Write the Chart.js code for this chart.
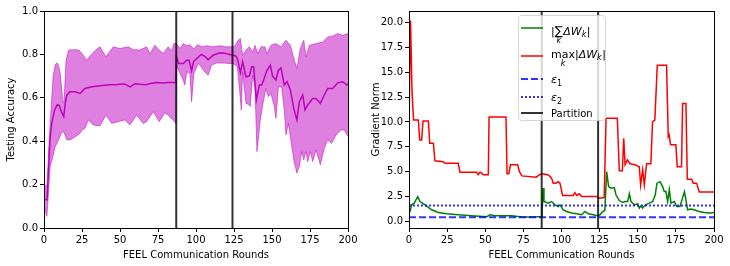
<!DOCTYPE html>
<html>
<head>
<meta charset="utf-8">
<script src="https://cdn.jsdelivr.net/npm/chart.js@4/dist/chart.umd.min.js"></script>
<style>
html,body{margin:0;padding:0;background:#fff;}
#wrap{display:flex;width:730px;height:266px;}
canvas{display:block;}
</style>
</head>
<body>
<div id="wrap">
<canvas id="accChart" width="365" height="266"></canvas>
<canvas id="normChart" width="365" height="266"></canvas>
</div>
<script>
// ---------- data ----------
const roundTicks = [0, 25, 50, 75, 100, 125, 150, 175, 200];
const accTicks = [0, 0.2, 0.4, 0.6, 0.8, 1.0];
const normTicks = [0, 2.5, 5, 7.5, 10, 12.5, 15, 17.5, 20];
const partitionRounds = [87, 124];
const eps1 = 0.42;
const eps2 = 1.6;

// [round, testing accuracy]
const accMean = [[0,0.13],[2,0.13],[3,0.27],[4,0.41],[5,0.48],[7,0.544],[8.6,0.567],[10,0.565],[11.4,0.536],[13,0.513],[14,0.574],[15,0.613],[17,0.628],[20.6,0.628],[23.7,0.62],[27,0.643],[30.5,0.65],[33,0.652],[36.8,0.655],[40,0.658],[43.4,0.66],[47,0.66],[50,0.662],[53,0.664],[56.6,0.65],[60,0.665],[63,0.662],[67,0.66],[70,0.666],[74,0.67],[78,0.668],[82,0.67],[86.8,0.67],[87.2,0.79],[88.5,0.758],[91.6,0.758],[93.9,0.773],[95.5,0.773],[97.1,0.724],[98.3,0.766],[100.3,0.78],[103.6,0.80],[106,0.79],[108,0.776],[111.3,0.796],[115.7,0.807],[119,0.805],[122.2,0.80],[124.4,0.796],[126.3,0.792],[127.4,0.777],[129.2,0.715],[130.7,0.766],[132.9,0.697],[135.1,0.70],[136.6,0.743],[137.9,0.743],[139.7,0.59],[141.7,0.659],[143.2,0.659],[144.5,0.682],[146.7,0.727],[148.9,0.75],[150.4,0.70],[152.6,0.682],[154.2,0.727],[155.9,0.738],[158.1,0.659],[159.9,0.674],[162.1,0.636],[164.3,0.551],[166.4,0.498],[168,0.582],[170.2,0.613],[171.7,0.544],[173.5,0.567],[176.8,0.597],[178.9,0.597],[181.8,0.574],[184.4,0.613],[186.6,0.643],[189.9,0.643],[193.2,0.669],[196.5,0.674],[199.3,0.659],[200,0.665]];
const accUpper = [[0,0.19],[2,0.2],[3,0.35],[4.2,0.5],[6,0.7],[7.5,0.755],[8.6,0.761],[9.5,0.75],[10.7,0.712],[12.3,0.59],[13.2,0.58],[14.5,0.773],[16.2,0.82],[20.6,0.822],[23,0.82],[25.8,0.796],[28,0.773],[32.4,0.81],[36.8,0.835],[40.7,0.789],[45.6,0.835],[50,0.827],[55.4,0.835],[58.7,0.822],[63,0.82],[67.5,0.835],[69.7,0.804],[73,0.842],[75.8,0.82],[78.4,0.804],[81.7,0.835],[84,0.816],[85.4,0.85],[87,0.85],[89.5,0.827],[91.6,0.85],[94,0.84],[96,0.845],[98.5,0.825],[101,0.845],[104,0.835],[107,0.84],[111,0.835],[116,0.84],[120,0.835],[124.5,0.835],[126,0.842],[127.7,0.865],[129.2,0.873],[130.7,0.796],[132.9,0.82],[135.1,0.835],[137.3,0.81],[138.8,0.842],[140.6,0.804],[142.8,0.835],[145.4,0.835],[146.7,0.804],[149.3,0.842],[152.6,0.85],[155.9,0.835],[159.2,0.865],[162.1,0.842],[164.7,0.773],[166.4,0.735],[168.6,0.827],[170.9,0.865],[172.4,0.789],[174.6,0.842],[179,0.85],[183.3,0.857],[186.6,0.88],[190,0.885],[193.2,0.896],[196.5,0.888],[200,0.896]];
const accLower = [[0,0.1],[1.9,0.054],[3.1,0.176],[4,0.283],[5.3,0.314],[7.4,0.375],[9.6,0.406],[11.4,0.437],[13,0.444],[15.1,0.406],[17.3,0.406],[20.6,0.421],[23.7,0.436],[25,0.452],[27,0.46],[29.1,0.498],[32.4,0.475],[36.8,0.47],[40.7,0.52],[44.5,0.482],[48.8,0.49],[53.2,0.498],[56.5,0.475],[60.9,0.52],[65.3,0.482],[67.5,0.49],[71.9,0.536],[75.8,0.49],[79.5,0.531],[81.7,0.52],[86.1,0.49],[86.8,0.48],[87.2,0.75],[89.5,0.712],[91.6,0.68],[92.7,0.659],[93.9,0.72],[96,0.712],[97.1,0.582],[98.6,0.712],[101.5,0.758],[102.6,0.75],[104.8,0.727],[108,0.704],[110.2,0.75],[113.5,0.76],[118,0.76],[122.3,0.758],[124.5,0.758],[127.2,0.743],[128.8,0.628],[129.8,0.544],[130.7,0.72],[132.9,0.574],[134.4,0.57],[135.7,0.56],[137.3,0.704],[138.8,0.65],[140.1,0.352],[142.3,0.498],[143.9,0.567],[146,0.643],[147.6,0.605],[149.3,0.62],[151.5,0.56],[152.6,0.505],[154.2,0.65],[156.3,0.65],[158.1,0.544],[159.2,0.429],[160.8,0.482],[163,0.375],[164.7,0.299],[166.4,0.253],[168,0.283],[169.5,0.352],[170.9,0.314],[172.4,0.352],[173.5,0.306],[175.2,0.352],[176.8,0.306],[178.9,0.36],[181.8,0.291],[184.4,0.367],[186.6,0.406],[189.3,0.39],[192.1,0.429],[195.4,0.452],[197.6,0.452],[200,0.421]];

// [round, gradient norm]
const sumNorm = [[0,1.0],[0.7,1.0],[1.7,1.67],[3.4,1.84],[5.7,2.5],[7.2,2.0],[10.5,1.67],[14.9,1.17],[19.2,0.9],[24.6,0.77],[32.2,0.67],[41.1,0.57],[51,0.47],[53.2,0.67],[56.5,0.57],[67.5,0.57],[74,0.44],[80.6,0.44],[87.2,0.5],[87.9,3.35],[88.5,2.0],[91.4,1.84],[93.5,2.0],[95.7,1.67],[97.9,1.5],[99,1.67],[101.2,1.17],[103.4,1.0],[106.7,0.84],[110,0.77],[113.2,0.67],[115.4,1.0],[117.6,0.77],[120.9,0.67],[123.5,0.57],[125.3,0.67],[126.6,0.93],[128.4,1.1],[129.6,5.0],[130.9,3.5],[132.5,3.35],[134.6,3.4],[135.7,2.68],[137.9,2.1],[140.1,1.9],[141.9,2.0],[143.4,2.0],[144.5,2.78],[145.6,2.0],[147.8,1.67],[150,1.77],[151,1.34],[152.1,1.57],[153.2,1.34],[155,1.67],[157.6,1.84],[159.8,2.0],[161.5,2.68],[162.6,3.85],[164.6,4.0],[166.3,3.5],[167.4,3.0],[168.5,3.0],[169.6,2.0],[170.7,3.2],[171.8,1.84],[174,2.0],[175.5,1.5],[177.7,1.5],[179,2.17],[180.6,3.0],[181.6,2.17],[182.7,1.17],[184.9,1.24],[187,1.17],[190.3,1.0],[193.6,0.9],[196.9,0.84],[200,0.9]];
const maxNorm = [[0,9.7],[1,20.2],[2,13.0],[3,10.2],[6.1,10.2],[7,8.2],[8.3,8.2],[9.2,10.1],[12.7,10.1],[13.6,7.86],[16,7.86],[17,6.1],[22.5,6.0],[23.6,5.85],[32.3,5.85],[33.4,4.95],[44.3,4.95],[45.4,4.7],[46.6,4.95],[47.6,4.85],[48.7,4.7],[52,4.7],[52.5,10.5],[63.6,10.5],[64.3,4.8],[65.5,4.8],[66.5,5.7],[71.3,5.7],[72.4,5.0],[74,4.58],[83.4,4.45],[85.6,4.7],[87.7,4.8],[91.4,4.68],[93.5,4.35],[94.6,3.85],[96.3,3.85],[97.9,4.0],[99,3.85],[100.7,2.62],[107.7,2.62],[108.8,2.9],[109.9,2.62],[111.6,2.78],[113.2,2.5],[123,2.5],[124.8,2.34],[128,2.4],[129.2,10.37],[136.6,10.37],[137.9,5.09],[139.9,5.09],[140.8,8.36],[141.7,5.7],[143.2,6.19],[144.9,5.8],[148.2,5.7],[151,5.5],[151.9,3.68],[153.2,5.2],[154.3,3.68],[155.8,5.8],[158.6,5.8],[159.7,10.03],[161.2,10.2],[162.8,15.7],[168.9,15.7],[170,8.53],[170.6,8.7],[171.5,7.7],[175,7.7],[175.9,5.5],[178.7,5.5],[179.4,11.87],[181.6,11.87],[182.5,4.25],[185.3,4.25],[186.4,3.85],[188.6,3.85],[190.3,2.95],[200,2.95]];

// ---------- helpers ----------
const pts = arr => arr.map(p => ({x: p[0], y: p[1]}));
const FONT = '"DejaVu Sans", "Liberation Sans", sans-serif';
Chart.defaults.font.family = FONT;
Chart.defaults.font.size = 10;
Chart.defaults.color = '#000';

const framePlugin = {
  id: 'frame',
  afterDraw(chart) {
    const a = chart.chartArea, ctx = chart.ctx;
    ctx.save();
    ctx.strokeStyle = '#000';
    ctx.lineWidth = 1;
    ctx.strokeRect(Math.round(a.left) + 0.5, Math.round(a.top) + 0.5,
                   Math.round(a.right - a.left) - 1 + 1, Math.round(a.bottom - a.top));
    ctx.restore();
  }
};

function xScale() {
  return {
    type: 'linear', min: 0, max: 200,
    afterBuildTicks: s => { s.ticks = roundTicks.map(v => ({value: v})); },
    afterFit: s => { s.height = 38; },
    ticks: { padding: 2, color: '#000', font: {size: 10}, callback: v => String(v), maxRotation: 0 },
    grid: { drawOnChartArea: false, drawTicks: true, tickLength: 4, color: '#000', tickColor: '#000', lineWidth: 1 },
    border: { display: false },
    title: { display: true, text: 'FEEL Communication Rounds', color: '#000', font: {size: 10}, padding: {top: 0, bottom: 5} }
  };
}
function yScale(min, max, ticks, title) {
  return {
    type: 'linear', min: min, max: max,
    afterBuildTicks: s => { s.ticks = ticks.map(v => ({value: v})); },
    afterFit: s => { s.width = 44; },
    ticks: { padding: 2, color: '#000', font: {size: 10}, callback: v => Number(v).toFixed(1) },
    grid: { drawOnChartArea: false, drawTicks: true, tickLength: 4, color: '#000', tickColor: '#000', lineWidth: 1 },
    border: { display: false },
    title: { display: true, text: title, color: '#000', font: {size: 10}, padding: {top: 5, bottom: 0} }
  };
}
const baseOpts = {
  responsive: false, devicePixelRatio: 1, animation: false,
  plugins: { legend: {display: false}, tooltip: {enabled: false} },
  elements: { point: {radius: 0}, line: {tension: 0} }
};

const partitionColor = 'rgba(0,0,0,0.8)';

// ---------- left chart ----------
new Chart(document.getElementById('accChart'), {
  type: 'line',
  data: {
    datasets: [
      { label: 'upper', data: pts(accUpper), borderColor: 'rgba(191,0,191,0.5)', borderWidth: 1,
        backgroundColor: 'rgba(191,0,191,0.5)', fill: '+1', order: 5 },
      { label: 'lower', data: pts(accLower), borderColor: 'rgba(191,0,191,0.5)', borderWidth: 1,
        fill: false, order: 4 },
      { label: 'mean', data: pts(accMean), borderColor: '#bf00bf', borderWidth: 1.5, fill: false, order: 2 },
      ...partitionRounds.map(r => ({ label: 'Partition', data: [{x: r, y: 0}, {x: r, y: 1}],
        borderColor: partitionColor, borderWidth: 2, fill: false, order: 1 }))
    ]
  },
  options: Object.assign({}, baseOpts, {
    layout: { padding: {left: 0, top: 11, right: 17, bottom: 0} },
    scales: { x: xScale(), y: yScale(0, 1, accTicks, 'Testing Accuracy') }
  }),
  plugins: [framePlugin]
});

// ---------- right chart ----------
const normMin = -0.66, normMax = 21.16;

function put(ctx, text, x, y, size, italic) {
  ctx.font = (italic ? 'italic ' : '') + size + 'px ' + FONT;
  ctx.fillText(text, x, y);
  return x + ctx.measureText(text).width;
}
function under(ctx, text, x0, x1, y, size) {
  ctx.font = 'italic ' + size + 'px ' + FONT;
  const w = ctx.measureText(text).width;
  ctx.fillText(text, (x0 + x1) / 2 - w / 2, y);
}

const mathLegend = {
  id: 'mathLegend',
  afterDatasetsDraw(chart) {
    const ctx = chart.ctx;
    ctx.save();
    const bx = 153.5, by = 15.5, bw = 87, bh = 105, r = 3;
    ctx.beginPath();
    ctx.moveTo(bx + r, by);
    ctx.lineTo(bx + bw - r, by); ctx.quadraticCurveTo(bx + bw, by, bx + bw, by + r);
    ctx.lineTo(bx + bw, by + bh - r); ctx.quadraticCurveTo(bx + bw, by + bh, bx + bw - r, by + bh);
    ctx.lineTo(bx + r, by + bh); ctx.quadraticCurveTo(bx, by + bh, bx, by + bh - r);
    ctx.lineTo(bx, by + r); ctx.quadraticCurveTo(bx, by, bx + r, by);
    ctx.closePath();
    ctx.fillStyle = 'rgba(255,255,255,0.8)';
    ctx.fill();
    ctx.strokeStyle = 'rgba(204,204,204,0.8)';
    ctx.lineWidth = 1;
    ctx.stroke();

    const ds = chart.data.datasets;
    const rows = [[0, 28], [1, 56], [2, 79], [3, 97], [4, 113]];
    rows.forEach(([i, y]) => {
      const d = ds[i];
      ctx.beginPath();
      ctx.strokeStyle = d.borderColor;
      ctx.lineWidth = d.borderWidth;
      ctx.setLineDash(d.borderDash || []);
      ctx.moveTo(156, y); ctx.lineTo(178, y);
      ctx.stroke();
    });
    ctx.setLineDash([]);
    ctx.fillStyle = '#000';
    ctx.textBaseline = 'alphabetic';
    // row 1: |sum_k ΔW_k|
    let x = 186, sx;
    x = put(ctx, '|', x, 35, 11, false);
    sx = x; x = put(ctx, '\u2211', x, 35, 12, false);
    under(ctx, 'k', sx, x, 42.5, 8);
    x += 0.5;
    x = put(ctx, '\u0394', x, 35, 11, true);
    x = put(ctx, 'W', x, 35, 11, true);
    x = put(ctx, 'k', x, 37, 8, true);
    x = put(ctx, '|', x + 0.5, 35, 11, false);
    // row 2: max_k |ΔW_k|
    x = 186;
    sx = x; x = put(ctx, 'max', x, 58, 11, false);
    under(ctx, 'k', sx, x, 65.5, 8);
    x = put(ctx, '|', x, 58, 11, false);
    x = put(ctx, '\u0394', x, 58, 11, true);
    x = put(ctx, 'W', x, 58, 11, true);
    x = put(ctx, 'k', x, 60, 8, true);
    x = put(ctx, '|', x + 0.5, 58, 11, false);
    // rows 3,4
    x = put(ctx, '\u03B5', 186, 83, 11, true); put(ctx, '1', x, 85.5, 8, false);
    x = put(ctx, '\u03B5', 186, 101, 11, true); put(ctx, '2', x, 103.5, 8, false);
    put(ctx, 'Partition', 186, 117, 10, false);
    ctx.restore();
  }
};

new Chart(document.getElementById('normChart'), {
  type: 'line',
  data: {
    datasets: [
      { label: 'sum', data: pts(sumNorm), borderColor: '#008000', borderWidth: 1.5, fill: false, order: 6 },
      { label: 'max', data: pts(maxNorm), borderColor: '#ff0000', borderWidth: 1.5, fill: false, order: 5 },
      { label: 'eps1', data: [{x: 0, y: eps1}, {x: 200, y: eps1}], borderColor: 'rgba(0,0,255,0.8)',
        borderWidth: 2, borderDash: [7, 3], fill: false, order: 4 },
      { label: 'eps2', data: [{x: 0, y: eps2}, {x: 200, y: eps2}], borderColor: 'rgba(0,0,255,0.8)',
        borderWidth: 2, borderDash: [2, 2], fill: false, order: 3 },
      ...partitionRounds.map(r => ({ label: 'Partition', data: [{x: r, y: normMin}, {x: r, y: normMax}],
        borderColor: partitionColor, borderWidth: 2, fill: false, order: 1 }))
    ]
  },
  options: Object.assign({}, baseOpts, {
    layout: { padding: {left: 0, top: 11, right: 16, bottom: 0} },
    scales: { x: xScale(), y: yScale(normMin, normMax, normTicks, 'Gradient Norm') }
  }),
  plugins: [mathLegend, framePlugin]
});
</script>
</body>
</html>
